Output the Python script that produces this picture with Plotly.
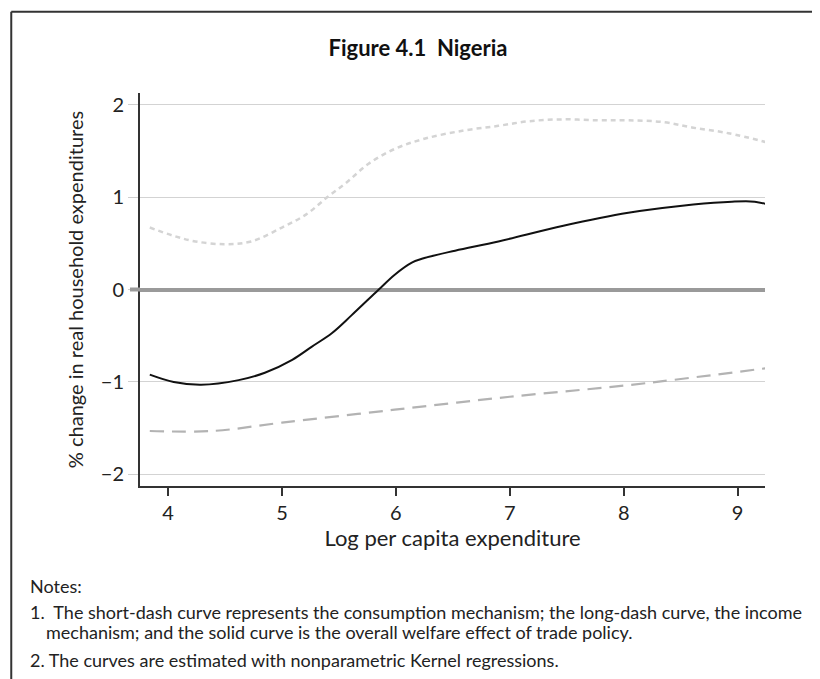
"""Nigeria: welfare effects of trade policy along the expenditure distribution."""

import plotly.graph_objects as go

FONT = "Lato"

# consumption mechanism (short-dash curve)
cons_x = [3.84, 4.05, 4.24, 4.50, 4.73, 5.00, 5.21, 5.40, 5.57, 5.76, 5.99,
          6.25, 6.60, 6.90, 7.17, 7.47, 7.78, 8.04, 8.35, 8.61, 8.92, 9.26]
cons_y = [0.67, 0.58, 0.52, 0.49, 0.52, 0.67, 0.81, 1.00, 1.16, 1.36, 1.52,
          1.63, 1.72, 1.77, 1.82, 1.84, 1.83, 1.83, 1.81, 1.75, 1.69, 1.59]

# income mechanism (long-dash curve)
inc_x = [3.84, 4.39, 5.00, 5.99, 7.00, 8.00, 8.42, 9.26]
inc_y = [-1.53, -1.53, -1.44, -1.30, -1.16, -1.04, -0.98, -0.85]

# overall welfare effect (solid curve)
tot_x = [3.84, 4.05, 4.29, 4.62, 4.85, 5.09, 5.26, 5.44, 5.61, 5.85, 5.99,
         6.14, 6.25, 6.52, 6.90, 7.47, 8.04, 8.61, 8.95, 9.15, 9.26]
tot_y = [-0.92, -1.00, -1.03, -0.98, -0.90, -0.76, -0.62, -0.47, -0.28, 0.0,
         0.16, 0.29, 0.34, 0.42, 0.52, 0.69, 0.83, 0.92, 0.95, 0.95, 0.92]

x_ticks = [4, 5, 6, 7, 8, 9]
y_ticks = [-2, -1, 0, 1, 2]

notes = [
    "Notes:",
    "1.  The short-dash curve represents the consumption mechanism; the long-dash curve, the income",
    "mechanism; and the solid curve is the overall welfare effect of trade policy.",
    "2. The curves are estimated with nonparametric Kernel regressions.",
]

fig = go.Figure()

fig.add_trace(go.Scatter(x=cons_x, y=cons_y, mode='lines', line_shape='spline',
                         line=dict(color='#d4d4d4', width=2.5, dash='5px,4px'),
                         showlegend=False, hoverinfo='skip'))
fig.add_trace(go.Scatter(x=inc_x, y=inc_y, mode='lines', line_shape='spline',
                         line=dict(color='#b3b3b3', width=2.2, dash='14px,8px'),
                         showlegend=False, hoverinfo='skip'))
fig.add_trace(go.Scatter(x=tot_x, y=tot_y, mode='lines', line_shape='spline',
                         line=dict(color='#111111', width=2),
                         showlegend=False, hoverinfo='skip'))

fig.update_xaxes(range=[3.754, 9.24], tickvals=x_ticks, ticks='outside',
                 ticklen=8, tickcolor='#333', tickwidth=1.5,
                 showline=True, linecolor='#333', linewidth=2,
                 showgrid=False, zeroline=False,
                 tickfont=dict(size=20, color='#222'),
                 title=dict(text="Log per capita expenditure",
                            font=dict(size=22, color='#222'), standoff=8))

fig.update_yaxes(range=[-2.125, 2.125], tickvals=y_ticks, ticks='outside',
                 ticklen=10, tickcolor='#cfcfcf', tickwidth=1,
                 showline=True, linecolor='#333', linewidth=2,
                 showgrid=True, gridcolor='#d3d3d3', gridwidth=1,
                 zeroline=True, zerolinecolor='#9a9a9a', zerolinewidth=4,
                 tickfont=dict(size=20, color='#222'),
                 title=dict(text="% change in real household expenditures",
                            font=dict(size=20, color='#222'), standoff=12))

# thick tick continuing the zero line left of the axis
fig.add_shape(type='line', xref='paper', yref='y', x0=-0.016, x1=0, y0=0, y1=0,
              line=dict(color='#9a9a9a', width=4))

# frame: top and left edges only
fig.add_shape(type='line', xref='paper', yref='paper', x0=-0.206, x1=1.2,
              y0=1.207, y1=1.207, line=dict(color='#333', width=2))
fig.add_shape(type='line', xref='paper', yref='paper', x0=-0.206, x1=-0.206,
              y0=1.207, y1=-0.52, line=dict(color='#333', width=2))

note_pos = [(-0.179, -0.2545), (-0.179, -0.3206), (-0.153, -0.3715), (-0.179, -0.4427)]
for text, (xp, yp) in zip(notes, note_pos):
    fig.add_annotation(text=text, xref='paper', yref='paper', x=xp, y=yp,
                       xanchor='left', yanchor='middle', showarrow=False,
                       font=dict(size=18, color='#222'))

fig.update_layout(
    width=820, height=679,
    margin=dict(l=132, r=63, t=85, b=201),
    paper_bgcolor='white', plot_bgcolor='white',
    font=dict(family=FONT, color='#222'),
    title=dict(text="<b>Figure 4.1  Nigeria</b>", x=0.5, xanchor='center',
               y=1 - 40 / 679, yanchor='middle',
               font=dict(size=22, color='#111', family=FONT)),
)

fig.write_html("out.html")
